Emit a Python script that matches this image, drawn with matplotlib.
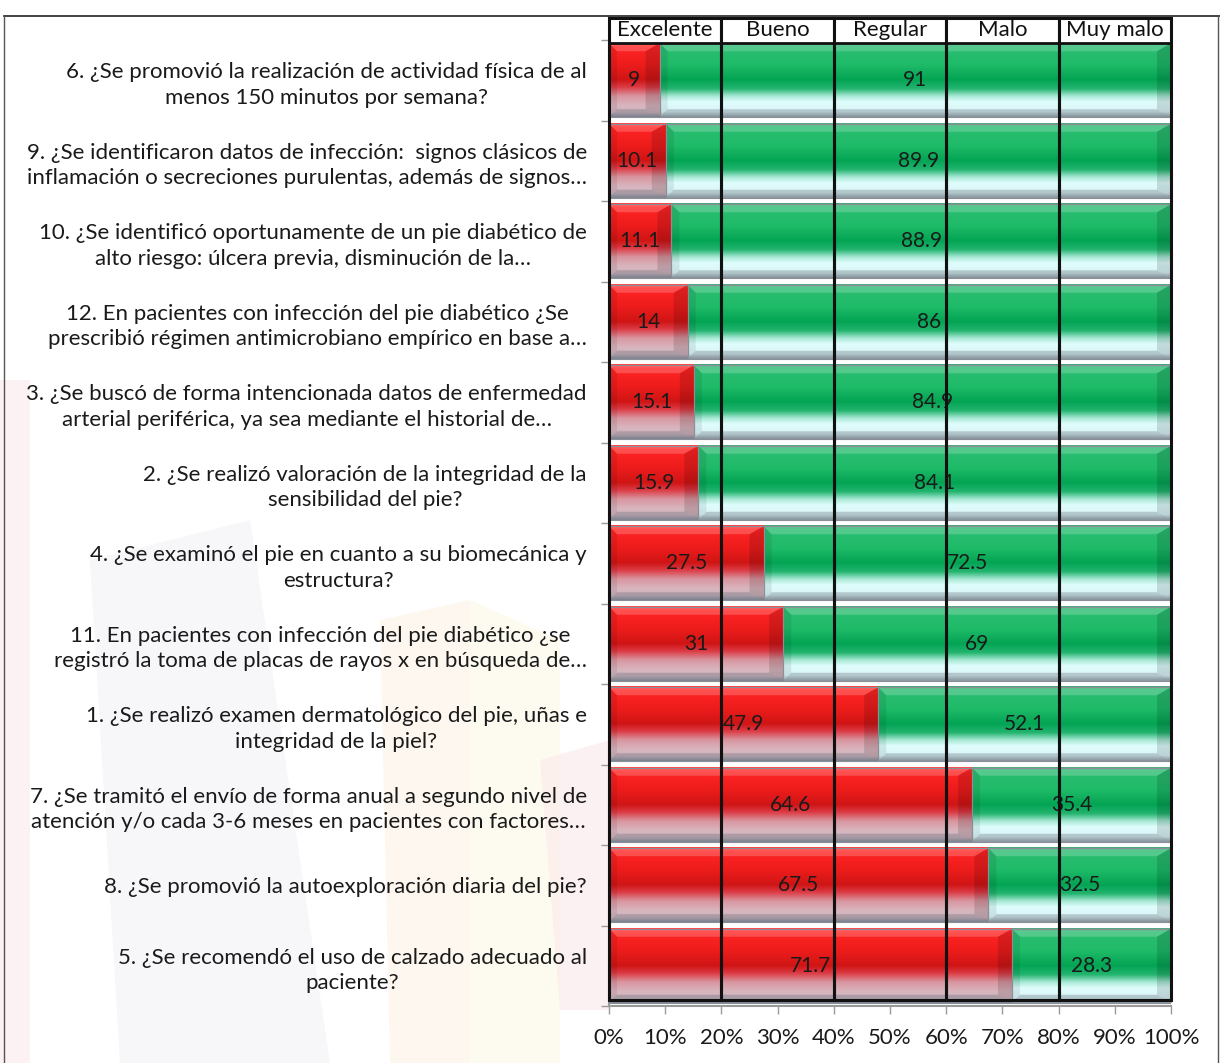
import numpy as np
import matplotlib
matplotlib.use("Agg")
import matplotlib.pyplot as plt
from matplotlib.patches import Polygon, Rectangle
from matplotlib.colors import to_rgb
from matplotlib.lines import Line2D

# ---------------- data ----------------
questions = [
    "6. ¿Se promovió la realización de actividad física de al\nmenos 150 minutos por semana?",
    "9. ¿Se identificaron datos de infección:  signos clásicos de\ninflamación o secreciones purulentas, además de signos…",
    "10. ¿Se identificó oportunamente de un pie diabético de\nalto riesgo: úlcera previa, disminución de la…",
    "12. En pacientes con infección del pie diabético ¿Se\nprescribió régimen antimicrobiano empírico en base a…",
    "3. ¿Se buscó de forma intencionada datos de enfermedad\narterial periférica, ya sea mediante el historial de…",
    "2. ¿Se realizó valoración de la integridad de la\nsensibilidad del pie?",
    "4. ¿Se examinó el pie en cuanto a su biomecánica y\nestructura?",
    "11. En pacientes con infección del pie diabético ¿se\nregistró la toma de placas de rayos x en búsqueda de…",
    "1. ¿Se realizó examen dermatológico del pie, uñas e\nintegridad de la piel?",
    "7. ¿Se tramitó el envío de forma anual a segundo nivel de\natención y/o cada 3-6 meses en pacientes con factores…",
    "8. ¿Se promovió la autoexploración diaria del pie?",
    "5. ¿Se recomendó el uso de calzado adecuado al\npaciente?",
]
red_values = [9, 10.1, 11.1, 14, 15.1, 15.9, 27.5, 31, 47.9, 64.6, 67.5, 71.7]
green_values = [91, 89.9, 88.9, 86, 84.9, 84.1, 72.5, 69, 52.1, 35.4, 32.5, 28.3]
rating_labels = ["Excelente", "Bueno", "Regular", "Malo", "Muy malo"]
rating_edges = [0, 20, 40, 60, 80, 100]
x_ticks = list(range(0, 101, 10))

# ---------------- styling ----------------
W, H, DPI = 1220, 1063, 100
fig = plt.figure(figsize=(W / DPI, H / DPI), dpi=DPI)
fig.patch.set_facecolor("white")

FONT = ["Lato", "DejaVu Sans"]

# faint watermark shapes in the background
bg = fig.add_axes([0, 0, 1, 1], zorder=-10)
bg.set_xlim(0, W); bg.set_ylim(H, 0); bg.axis("off")
wm = [
    ([(0, 380), (30, 380), (30, 1063), (0, 1063)], "#fbe6ea"),
    ([(90, 560), (250, 520), (330, 1063), (120, 1063)], "#f1f1f6"),
    ([(380, 620), (470, 600), (470, 1063), (390, 1063)], "#fdf1e3"),
    ([(470, 600), (560, 640), (560, 1063), (470, 1063)], "#fdf8e4"),
    ([(540, 760), (610, 740), (610, 1010), (560, 1010)], "#fbe7e9"),
]
for pts, c in wm:
    bg.add_patch(Polygon(pts, closed=True, facecolor=c, edgecolor="none", alpha=0.55))
# frame around the figure
bg.add_line(Line2D([4, W], [16, 16], color="#222222", lw=1.2))
bg.add_line(Line2D([4, 4], [16, H], color="#555555", lw=1.0))
bg.add_line(Line2D([W - 2, W - 2], [16, H], color="#555555", lw=1.0))

# main axes
ax_l, ax_r = 609, 1171
ax_t, ax_b = 40, 1006
ax = fig.add_axes([ax_l / W, (H - ax_b) / H, (ax_r - ax_l) / W, (ax_b - ax_t) / H])
ax.patch.set_alpha(0)
n = len(questions)
ypos = np.arange(n)[::-1]  # first question at the top
ax.set_xlim(0, 100)
ax.set_ylim(-0.5, n - 0.5)

px_x = 100.0 / (ax_r - ax_l)
px_y = n / (ax_b - ax_t)
bar_h = 0.92


def grad_img(stops):
    pos = np.linspace(0, 1, 200)
    cols = np.array([to_rgb(c) for _, c in stops])
    ps = [p for p, _ in stops]
    img = np.stack([np.interp(pos, ps, cols[:, k]) for k in range(3)], axis=-1)
    return img[:, None, :]


green_grad = grad_img([(0.0, "#4aa57a"), (0.05, "#2cbd72"), (0.3, "#1fbb69"),
                       (0.5, "#03a453"), (0.62, "#22b46e"), (0.72, "#a6e8d4"),
                       (0.8, "#e0fdfd"), (0.93, "#d9f3f6"), (1.0, "#9aa6ae")])
red_grad = grad_img([(0.0, "#ff4545"), (0.06, "#ff2424"), (0.3, "#ee1c1c"),
                     (0.5, "#cf1515"), (0.6, "#dc3a44"), (0.72, "#d896a0"),
                     (0.85, "#d9b6bf"), (0.94, "#cdb3bc"), (1.0, "#8a909c")])


def bevel_bar(x0, x1, yc, img):
    y0, y1 = yc - bar_h / 2, yc + bar_h / 2
    ax.imshow(img, extent=[x0, x1, y0, y1], aspect="auto", origin="upper",
              interpolation="bilinear", zorder=2)
    bxl = min(8 * px_x, (x1 - x0) / 4)
    bxr = min(14 * px_x, (x1 - x0) / 3)
    by = 8 * px_y
    top = [(x0, y1), (x1, y1), (x1 - bxr, y1 - by), (x0 + bxl, y1 - by)]
    bot = [(x0, y0), (x1, y0), (x1 - bxr, y0 + by), (x0 + bxl, y0 + by)]
    left = [(x0, y0), (x0, y1), (x0 + bxl, y1 - by), (x0 + bxl, y0 + by)]
    right = [(x1, y0), (x1, y1), (x1 - bxr, y1 - by), (x1 - bxr, y0 + by)]
    ax.add_patch(Polygon(top, closed=True, fc="white", ec="none", alpha=0.20, zorder=3))
    ax.add_patch(Polygon(bot, closed=True, fc="#5a6470", ec="none", alpha=0.30, zorder=3))
    ax.add_patch(Polygon(left, closed=True, fc="black", ec="none", alpha=0.08, zorder=3))
    ax.add_patch(Polygon(right, closed=True, fc="black", ec="none", alpha=0.13, zorder=3))
    ax.add_patch(Rectangle((x0, y0), x1 - x0, y1 - y0, fill=False, ec="#8a8f98",
                           lw=0.8, zorder=3))


for yc, r, g in zip(ypos, red_values, green_values):
    bevel_bar(0, r, yc, red_grad)
    bevel_bar(r, r + g, yc, green_grad)
    ax.text(r / 2, yc, f"{r:g}", ha="center", va="center", fontsize=15,
            family=FONT, color="#1a1a1a", zorder=6)
    ax.text(r + g / 2, yc, f"{g:g}", ha="center", va="center", fontsize=15,
            family=FONT, color="#1a1a1a", zorder=6)

ax.set_xlim(0, 100)
ax.set_ylim(-0.5, n - 0.5)

# rating frames with header boxes
frame_top = (n - 0.5) + (ax_t - 18) * px_y
header_bot = (n - 0.5) - 3 * px_y
frame_bot = -0.5 + 6 * px_y
for i, lab in enumerate(rating_labels):
    a, b = rating_edges[i], rating_edges[i + 1]
    ax.add_patch(Rectangle((a, header_bot), b - a, frame_top - header_bot,
                           fc="white", ec="#111111", lw=2, zorder=7, clip_on=False))
    ax.add_patch(Rectangle((a, frame_bot), b - a, frame_top - frame_bot,
                           fill=False, ec="#111111", lw=2.2, zorder=7, clip_on=False))
    ax.text((a + b) / 2, (frame_top + header_bot) / 2 + 0.01, lab, ha="center", va="center",
            fontsize=16, family=FONT, color="#111111", zorder=8, clip_on=False)

# axes styling
ax.set_yticks(ypos)
ax.set_yticklabels(questions, family=FONT, fontsize=16, multialignment="center",
                   color="#1a1a1a", linespacing=1.35)
ax.set_yticks(np.arange(-0.5, n, 1.0), minor=True)
ax.tick_params(axis="y", which="major", length=0, pad=16)
ax.tick_params(axis="y", which="minor", length=6, color="#9a9a9a", width=1)
ax.set_xticks(x_ticks)
ax.set_xticklabels([f"{t}%" for t in x_ticks], family=FONT, fontsize=16, color="#1a1a1a")
ax.tick_params(axis="x", length=6, color="#9a9a9a", width=1, pad=10)
for s in ["top", "right"]:
    ax.spines[s].set_visible(False)
for s in ["left", "bottom"]:
    ax.spines[s].set_color("#9a9a9a")
    ax.spines[s].set_linewidth(1.5)

fig.savefig("out.png", dpi=DPI)
